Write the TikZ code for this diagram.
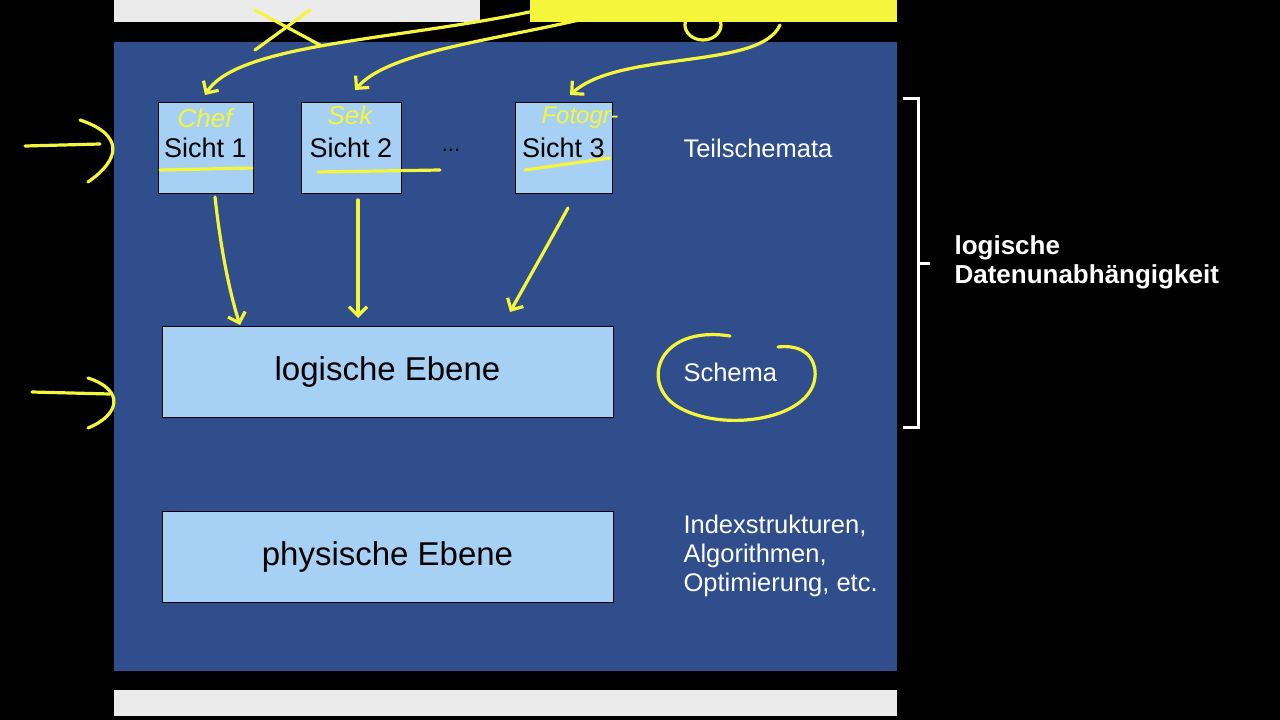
\documentclass[tikz,border=0pt]{standalone}
\usepackage{fontspec}
\setmainfont{Liberation Sans}
\usetikzlibrary{arrows.meta}
\definecolor{panel}{RGB}{48,78,140}
\definecolor{boxc}{RGB}{166,209,245}
\definecolor{grayb}{RGB}{235,235,235}
\definecolor{yel}{RGB}{245,245,60}
\begin{document}
\begin{tikzpicture}[x=1pt,y=-1pt,
  box/.style={draw=black,fill=boxc,line width=0.6pt},
  wt/.style={text=white,anchor=west,font=\fontsize{25.5}{29}\selectfont,align=left},
  hand/.style={yel,line width=3.2pt,line cap=round,line join=round},
  harr/.style={hand,-{Straight Barb[length=9pt,width=18pt]}}]
\fill[black] (0,0) rectangle (1280,720);
\useasboundingbox (0,0) rectangle (1280,720);
\fill[grayb] (114,0) rectangle (480,22);
\fill[yel] (530,0) rectangle (897,22);
\fill[grayb] (114,690) rectangle (897,716);
\fill[panel] (114,42) rectangle (897,671);
\node[box,minimum width=95pt,minimum height=91pt,font=\fontsize{27}{30}\selectfont] (s1) at (205.5,147.5) {Sicht 1};
\node[box,minimum width=100pt,minimum height=91pt,font=\fontsize{27}{30}\selectfont] (s2) at (351,147.5) {Sicht 2};
\node[box,minimum width=97pt,minimum height=91pt,font=\fontsize{27}{30}\selectfont] (s3) at (563.5,147.5) {Sicht 3};
\node[text=black,font=\fontsize{22}{24}\selectfont] (dots) at (451,150) {...};
\node[box,minimum width=451pt,minimum height=91pt,font=\fontsize{33}{36}\selectfont] (le) at (387.5,371.5) {logische Ebene};
\node[box,minimum width=451pt,minimum height=91pt,font=\fontsize{33}{36}\selectfont] (pe) at (387.5,556.5) {physische Ebene};
\node[wt] (t1) at (680,148) {Teilschemata};
\node[wt] (t2) at (680,372) {Schema};
\node[wt,font=\fontsize{25.5}{29}\selectfont] (t3) at (680,556) {Indexstrukturen,\\Algorithmen,\\Optimierung, etc.};
\draw[white,line width=3pt] (903,98) -- (918,98) -- (918,427) -- (903,427);
\draw[white,line width=3pt] (918,263) -- (930,263);
\node[wt,font=\bfseries\fontsize{26}{29}\selectfont] (ld) at (951,262) {logische\\Datenunabhängigkeit};
% yellow annotations
\coordinate (la1) at (25,146);
\draw[hand] (la1) -- (100,144);
\draw[hand] (80,120) .. controls (125,135) and (120,160) .. (88,182);
\coordinate (lb1) at (32,392);
\draw[hand] (lb1) -- (110,394);
\draw[hand] (88,378) .. controls (125,390) and (120,415) .. (88,428);
\draw[harr] (215,197) .. controls (222,260) and (232,300) .. (240,325);
\draw[harr] (358,200) -- (358,318);
\draw[harr] (568,208) .. controls (545,250) and (525,285) .. (510,312);
\draw[harr] (560,5) .. controls (420,40) and (240,40) .. (205,95);
\draw[harr] (600,15) .. controls (500,40) and (390,50) .. (355,90);
\draw[harr] (780,25) .. controls (760,70) and (620,50) .. (570,95);
\draw[hand] (255,10) -- (320,45); \draw[hand] (310,10) -- (255,50);
\draw[hand] (703,25) ellipse (18 and 15);
\draw[hand] (160,170) -- (252,168);
\draw[hand] (318,172) -- (440,170);
\draw[hand] (525,170) -- (610,158);
\draw[hand] (730,336) .. controls (660,325) and (640,380) .. (675,405) .. controls (720,435) and (820,420) .. (815,370) .. controls (812,350) and (795,345) .. (778,347);
\node[text=yel,font=\fontsize{26}{28}\selectfont\itshape] (h1) at (205,118) {Chef};
\node[text=yel,font=\fontsize{26}{28}\selectfont\itshape] (h2) at (350,115) {Sek};
\node[text=yel,font=\fontsize{24}{28}\selectfont\itshape] (h3) at (580,118) {Fotogr-};
\end{tikzpicture}
\end{document}
